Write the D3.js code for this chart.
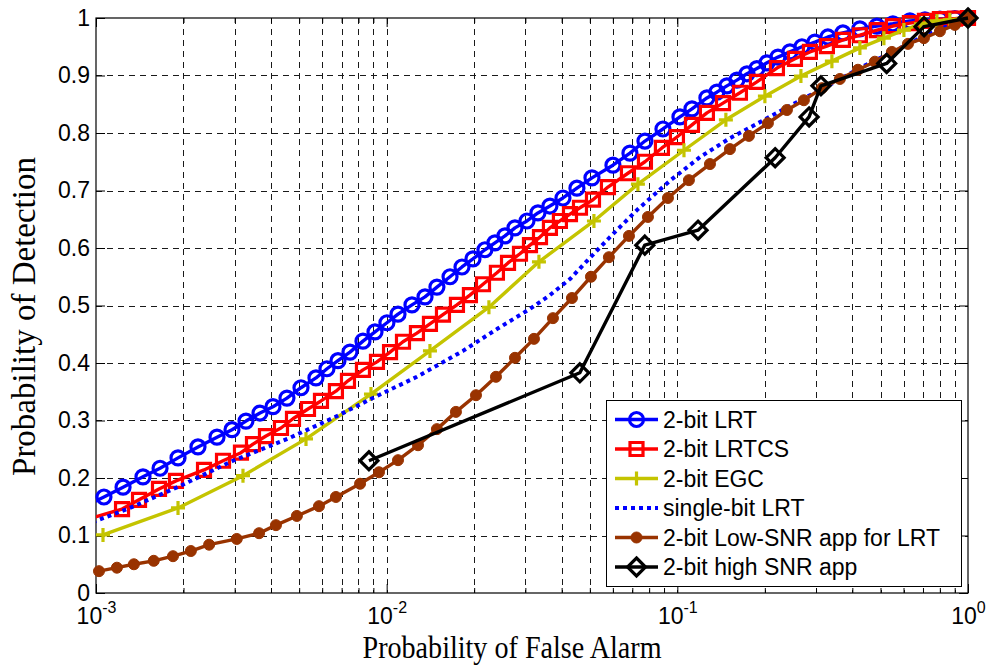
<!DOCTYPE html>
<html>
<head>
<meta charset="utf-8">
<script src="https://cdn.jsdelivr.net/npm/d3@7"></script>
<style>
body{margin:0;background:#fff;}
svg{display:block;background:#fff;}
.tickLabel text{font-family:"Liberation Sans",Arial,sans-serif;font-size:23px;fill:#000;}
.axisTitle{font-family:"Liberation Serif","Times New Roman",serif;font-size:33px;fill:#000;}
.legend text{font-family:"Liberation Sans",Arial,sans-serif;font-size:23px;fill:#000;}
</style>
</head>
<body>
<svg class="mainChart" width="989" height="667"></svg>
<script>
// values (Pfa on log axis, Pd linear)
var lrtPfa = [0.000917,0.001065,0.001239,0.001451,0.001661,0.001915,0.002243,0.002608,0.002937,0.003281,0.003666,0.004063,0.004539,0.005073,0.005712,0.006232,0.0068,0.007478,0.008288,0.009117,0.01002,0.01094,0.01222,0.01355,0.01489,0.01652,0.01816,0.01981,0.02178,0.02358,0.02553,0.02763,0.03039,0.03315,0.03645,0.04041,0.04514,0.05085,0.06004,0.0687,0.07737,0.08923,0.1021,0.1123,0.1264,0.1368,0.1481,0.1603,0.1736,0.1878,0.2034,0.2219,0.244,0.2683,0.2974,0.3296,0.3713,0.4247,0.486,0.5516,0.6311,0.7108,0.8005,0.9013,1];
var lrtPd = [0.151,0.167,0.184,0.202,0.217,0.235,0.254,0.271,0.284,0.299,0.313,0.324,0.339,0.357,0.374,0.390,0.404,0.419,0.438,0.454,0.470,0.485,0.501,0.515,0.532,0.550,0.567,0.581,0.597,0.609,0.621,0.635,0.647,0.661,0.673,0.687,0.704,0.722,0.744,0.765,0.786,0.807,0.828,0.842,0.861,0.871,0.882,0.892,0.903,0.912,0.922,0.932,0.941,0.950,0.958,0.967,0.974,0.981,0.986,0.990,0.995,0.997,0.998,0.999,1];

var csPfa = [0.000917,0.001229,0.001406,0.001647,0.001884,0.002353,0.002735,0.003153,0.003468,0.003844,0.004329,0.004761,0.005362,0.005943,0.00669,0.00736,0.008288,0.009261,0.01027,0.01138,0.01271,0.01409,0.01562,0.01745,0.01934,0.02145,0.02395,0.02615,0.02875,0.03112,0.03369,0.03645,0.03945,0.04272,0.04624,0.05126,0.05771,0.06762,0.07737,0.08851,0.09968,0.1123,0.1264,0.1436,0.1642,0.1878,0.2201,0.2539,0.2858,0.327,0.3713,0.4247,0.486,0.5516,0.6311,0.7108,0.8005,0.9013,1];
var csPd = [0.127,0.146,0.162,0.181,0.195,0.214,0.230,0.244,0.259,0.273,0.287,0.303,0.320,0.334,0.351,0.369,0.388,0.402,0.419,0.437,0.452,0.468,0.484,0.501,0.518,0.537,0.557,0.574,0.590,0.605,0.619,0.635,0.647,0.659,0.670,0.684,0.706,0.730,0.750,0.774,0.793,0.814,0.835,0.852,0.870,0.889,0.913,0.929,0.941,0.951,0.962,0.970,0.979,0.986,0.991,0.995,0.998,0.999,1];

var egcPfa = [0.001057,0.001915,0.003204,0.005278,0.008831,0.01409,0.02248,0.03341,0.05165,0.07318,0.1054,0.1469,0.2001,0.2662,0.3402,0.4247,0.5137,0.6019,0.6887,0.7816,0.8662,1];
var egcPd = [0.101,0.148,0.204,0.268,0.346,0.421,0.497,0.576,0.647,0.711,0.770,0.823,0.864,0.899,0.925,0.948,0.965,0.979,0.990,0.995,0.997,1];

var sbPfa = [0.000917,0.001309,0.001945,0.00296,0.004649,0.00664,0.009117,0.01271,0.0183,0.02395,0.03112,0.03645,0.04272,0.05006,0.05864,0.07262,0.09432,0.1196,0.1517,0.1878,0.2254,0.2748,0.3349,0.4247,0.5386,0.6832,0.8327,1];
var sbPd = [0.118,0.148,0.186,0.230,0.270,0.306,0.341,0.376,0.421,0.459,0.494,0.518,0.546,0.583,0.619,0.666,0.717,0.758,0.791,0.816,0.838,0.861,0.884,0.913,0.939,0.965,0.984,1];

var lowPfa = [0.001024,0.00118,0.00135,0.00158,0.00184,0.00212,0.00245,0.00305,0.00364,0.00416,0.00491,0.00585,0.00669,0.0081,0.00941,0.01094,0.01282,0.01489,0.01731,0.02029,0.02377,0.02763,0.03212,0.03733,0.04339,0.05044,0.05815,0.06817,0.07923,0.09283,0.1096,0.1295,0.1517,0.1763,0.2049,0.2382,0.2725,0.3144,0.3625,0.4182,0.4781,0.5472,0.6214,0.7053,0.8005,0.9013,1];
var lowPd = [0.038,0.044,0.050,0.056,0.064,0.073,0.084,0.094,0.104,0.118,0.134,0.151,0.167,0.190,0.210,0.231,0.257,0.285,0.315,0.344,0.376,0.409,0.442,0.478,0.513,0.550,0.584,0.621,0.654,0.687,0.718,0.746,0.772,0.795,0.817,0.840,0.857,0.878,0.894,0.910,0.924,0.941,0.955,0.965,0.977,0.988,1];

var hiPfa = [0.00869,0.0462,0.0773,0.1178,0.217,0.284,0.312,0.525,0.706,1];
var hiPd = [0.23,0.383,0.605,0.631,0.757,0.828,0.882,0.921,0.985,1];

var seriesNames = ["2-bit LRT", "2-bit LRTCS", "2-bit EGC", "single-bit LRT", "2-bit Low-SNR app for LRT", "2-bit high SNR app"];
var yTickValues = [0, 0.1, 0.2, 0.3, 0.4, 0.5, 0.6, 0.7, 0.8, 0.9, 1];
var xTickValues = [0.001, 0.01, 0.1, 1];

var series = [
	{name: seriesNames[0], pfa: lrtPfa, pd: lrtPd, color: "#0000ff", marker: "circle"},
	{name: seriesNames[1], pfa: csPfa, pd: csPd, color: "#ff0000", marker: "square"},
	{name: seriesNames[2], pfa: egcPfa, pd: egcPd, color: "#c4c400", marker: "plus"},
	{name: seriesNames[3], pfa: sbPfa, pd: sbPd, color: "#0000ff", marker: "none", dash: "4,4"},
	{name: seriesNames[4], pfa: lowPfa, pd: lowPd, color: "#993300", marker: "dot"},
	{name: seriesNames[5], pfa: hiPfa, pd: hiPd, color: "#000000", marker: "diamond"}
];

var chart = d3.select(".mainChart");

function markerPath(type){
	if(type == "circle") return "M-7,0A7,7 0 1,1 7,0A7,7 0 1,1 -7,0Z";
	if(type == "square") return "M-6.5,-6.5H6.5V6.5H-6.5Z";
	if(type == "plus") return "M-7,0H7M0,-7V7";
	if(type == "dot") return "M-5.5,0A5.5,5.5 0 1,1 5.5,0A5.5,5.5 0 1,1 -5.5,0Z";
	if(type == "diamond") return "M0,-9L9,0L0,9L-9,0Z";
	return "";
}

function drawMarkers(g, pts, s){
	g.selectAll("path.mk")
		.data(pts)
		.enter()
		.append("path")
		.attr("class", "mk")
		.attr("transform", function(d){ return "translate(" + d[0] + "," + d[1] + ")"; })
		.attr("d", markerPath(s.marker))
		.attr("fill", s.marker == "dot" ? s.color : "none")
		.attr("stroke", s.color)
		.attr("stroke-width", s.marker == "dot" ? 1 : 3.2);
}

function drawChart(){
	var pLeft = 96, pRight = 968, pTop = 18, pBottom = 593;

	var x = d3.scaleLog().domain([0.001, 1]).range([pLeft, pRight]);
	var y = d3.scaleLinear().domain([0, 1]).range([pBottom, pTop]);

	var minorTicks = [];
	[-3, -2, -1].forEach(function(e){
		for(var k = 2; k <= 9; k++){ minorTicks.push(k * Math.pow(10, e)); }
	});

	// dashed grid
	var grid = chart.append("g").attr("class", "grid")
		.attr("stroke", "#1a1a1a")
		.attr("stroke-width", 1)
		.attr("stroke-dasharray", "6,5");

	grid.selectAll("line.gy")
		.data(yTickValues.slice(1, -1))
		.enter()
		.append("line")
		.attr("x1", pLeft).attr("x2", pRight)
		.attr("y1", function(d){ return Math.round(y(d)) + 0.5; })
		.attr("y2", function(d){ return Math.round(y(d)) + 0.5; });

	grid.selectAll("line.gx")
		.data(xTickValues.slice(1, -1).concat(minorTicks))
		.enter()
		.append("line")
		.attr("y1", pTop).attr("y2", pBottom)
		.attr("x1", function(d){ return Math.round(x(d)) + 0.5; })
		.attr("x2", function(d){ return Math.round(x(d)) + 0.5; });

	// ticks on all four sides, pointing in
	var bottomAxis = chart.append("g")
		.attr("class", "tickLabel")
		.attr("transform", "translate(0," + pBottom + ")")
		.call(d3.axisBottom(x).tickValues(xTickValues).tickSize(-9).tickSizeOuter(0).tickPadding(15).tickFormat(function(){ return "10"; }));
	bottomAxis.selectAll(".tick text")
		.append("tspan")
		.attr("dy", "-0.68em")
		.attr("font-size", "16px")
		.text(function(d){ return Math.round(Math.log10(d)); });

	chart.append("g")
		.attr("transform", "translate(0," + pBottom + ")")
		.call(d3.axisBottom(x).tickValues(minorTicks).tickSize(-5).tickSizeOuter(0).tickFormat(""));
	chart.append("g")
		.attr("transform", "translate(0," + pTop + ")")
		.call(d3.axisTop(x).tickValues(xTickValues).tickSize(-9).tickSizeOuter(0).tickFormat(""));
	chart.append("g")
		.attr("transform", "translate(0," + pTop + ")")
		.call(d3.axisTop(x).tickValues(minorTicks).tickSize(-5).tickSizeOuter(0).tickFormat(""));

	chart.append("g")
		.attr("class", "tickLabel")
		.attr("transform", "translate(" + pLeft + ",0)")
		.call(d3.axisLeft(y).tickValues(yTickValues).tickSize(-9).tickSizeOuter(0).tickPadding(6).tickFormat(function(d){ return String(d); }));
	chart.append("g")
		.attr("transform", "translate(" + pRight + ",0)")
		.call(d3.axisRight(y).tickValues(yTickValues).tickSize(-9).tickSizeOuter(0).tickFormat(""));

	chart.selectAll(".tickLabel").attr("font-size", null).attr("font-family", null);
	chart.selectAll(".domain").remove();

	chart.append("rect")
		.attr("x", pLeft).attr("y", pTop)
		.attr("width", pRight - pLeft).attr("height", pBottom - pTop)
		.attr("fill", "none")
		.attr("stroke", "#000")
		.attr("stroke-width", 1.2);

	chart.append("clipPath")
		.attr("id", "plotClip")
		.append("rect")
		.attr("x", pLeft).attr("y", pTop - 4)
		.attr("width", pRight - pLeft + 4).attr("height", pBottom - pTop + 4);

	var line = d3.line()
		.x(function(d){ return d[0]; })
		.y(function(d){ return d[1]; });

	series.forEach(function(s){
		var pts = s.pfa.map(function(v, i){ return [x(v), y(s.pd[i])]; });
		var g = chart.append("g").attr("class", "series");

		g.append("path")
			.attr("d", line(pts))
			.attr("clip-path", "url(#plotClip)")
			.attr("fill", "none")
			.attr("stroke", s.color)
			.attr("stroke-width", s.dash ? 4 : 3.4)
			.attr("stroke-dasharray", s.dash || null)
			.attr("stroke-linejoin", "round");

		if(s.marker != "none"){
			var inside = pts.filter(function(p, i){ return s.pfa[i] >= 0.001; });
			drawMarkers(g, inside, s);
		}
	});

	// axis titles
	chart.append("text")
		.attr("class", "axisTitle")
		.attr("x", 512)
		.attr("y", 658)
		.attr("font-size", "31px")
		.style("font-size", "31px")
		.attr("text-anchor", "middle")
		.attr("textLength", 299)
		.attr("lengthAdjust", "spacingAndGlyphs")
		.text("Probability of False Alarm");

	chart.append("text")
		.attr("class", "axisTitle")
		.attr("transform", "translate(35," + ((pTop + pBottom) / 2 + 11) + ") rotate(-90)")
		.attr("text-anchor", "middle")
		.text("Probability of Detection");

	// legend
	var legend = chart.append("g").attr("class", "legend");
	legend.append("rect")
		.attr("x", 606.5).attr("y", 400.5)
		.attr("width", 355).attr("height", 186)
		.attr("fill", "#fff")
		.attr("stroke", "#000")
		.attr("stroke-width", 1);

	series.forEach(function(s, i){
		var ly = 419.5 + i * 29.5;
		legend.append("line")
			.attr("x1", 615).attr("x2", 658)
			.attr("y1", ly).attr("y2", ly)
			.attr("stroke", s.color)
			.attr("stroke-width", s.dash ? 4 : 3.4)
			.attr("stroke-dasharray", s.dash || null);
		if(s.marker != "none"){
			drawMarkers(legend.append("g"), [[636.5, ly]], s);
		}
		legend.append("text")
			.attr("x", 663)
			.attr("y", ly)
			.attr("dy", "0.36em")
			.text(s.name);
	});
}

drawChart();
</script>
</body>
</html>
